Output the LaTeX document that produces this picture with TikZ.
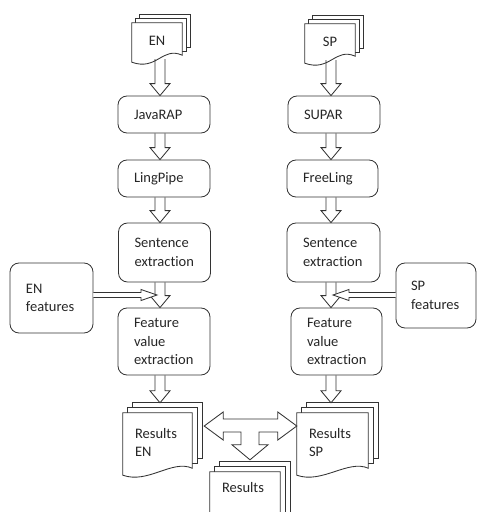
\documentclass[tikz,border=0pt]{standalone}
\usepackage{fontspec}
\setmainfont{Carlito}[Ligatures=NoCommon]
\usetikzlibrary{calc,backgrounds}

\tikzset{
  proc/.style={draw=black!80, rounded corners=9pt, line width=0.85pt, align=left,
    inner xsep=16pt, text width=60pt},
  doc/.style={inner xsep=12pt, align=left},
  page/.style={draw=black!80, fill=white, line width=0.85pt},
  blk/.style={draw=black!80, line width=0.85pt, line join=miter},
}

% stack of three pages behind a doc node, #1 = page offset
\newcommand\docstack[2][4]{%
  \begin{scope}[on background layer]
    \foreach \k in {2,1}
      \draw[page] ($(#2.north west)+(\k*#1,-\k*#1)$) rectangle ($(#2.south east)+(\k*#1,-4-\k*#1)$);
    \draw[page] (#2.north west) -- (#2.north east) -- ($(#2.south east)+(0,-4)$)
      .. controls ($(#2.south east)+(-20,-13)$) and ($(#2.south west)+(25,12)$) .. ($(#2.south west)+(0,3)$) -- cycle;
  \end{scope}
  \coordinate (#2-top) at ($(#2.north)+(2*#1,-2*#1)$);}

% hollow block arrow pointing down, along column #1
\newcommand\blockdown[3]{%
  \draw[blk] ($(#1 |- #2)+(-5,0)$) -- ($(#1 |- #3)+(-5,-12)$) -- ($(#1 |- #3)+(-10,-12)$)
    -- (#1 |- #3) -- ($(#1 |- #3)+(10,-12)$) -- ($(#1 |- #3)+(5,-12)$) -- ($(#1 |- #2)+(5,0)$);}

% hollow block arrow sideways, #3 = signed head length
\newcommand\blockside[3]{%
  \draw[blk, fill=white] ($(#1 |- #2)+(0,-2.5)$) -- ($(#2)+(#3,-2.5)$) -- ($(#2)+(#3,-5.5)$)
    -- (#2) -- ($(#2)+(#3,5.5)$) -- ($(#2)+(#3,2.5)$) -- ($(#1 |- #2)+(0,2.5)$);}

\begin{document}
\begin{tikzpicture}[x=1pt, y=-1pt, font=\fontsize{14.5}{18.5}\selectfont, text=black!85]
  \useasboundingbox (0,0) rectangle (477,512);
  \coordinate (colEN) at (160,0);
  \coordinate (colSP) at (331,0);

  % english column
  \node[doc, align=center, text width=26pt, minimum width=50pt, minimum height=36pt] (docEN) at (157,41) {EN};
  \node[proc, minimum height=37pt] (javarap) at (164,114.5) {JavaRAP};
  \node[proc, minimum height=37pt] (lingpipe) at (164,178.5) {LingPipe};
  \node[proc, minimum height=59pt] (sentEN) at (164.5,252.5) {Sentence\\extraction};
  \node[proc, minimum height=67pt] (featEN) at (164,341.5) {Feature\\value\\extraction};
  \node[proc, text width=51pt, minimum height=70pt] (enfeat) at (51.5,298) {EN\\features};
  \node[doc, text width=45pt, minimum width=69pt, minimum height=59pt] (resEN) at (157.5,442.5) {Results\\EN};

  % spanish column
  \node[doc, align=center, text width=26pt, minimum width=50pt, minimum height=36pt] (docSP) at (330,42) {SP};
  \node[proc, minimum height=37pt] (supar) at (334,114.5) {SUPAR};
  \node[proc, text width=59pt, minimum height=37pt] (freeling) at (332.5,178.5) {FreeLing};
  \node[proc, text width=61pt, minimum height=59pt] (sentSP) at (333.5,252.5) {Sentence\\extraction};
  \node[proc, text width=59pt, minimum height=67pt] (featSP) at (336.5,341.5) {Feature\\value\\extraction};
  \node[proc, inner xsep=15pt, text width=50pt, minimum height=65pt] (spfeat) at (436,295.5) {SP\\features};
  \node[doc, text width=47pt, minimum width=71pt, minimum height=59pt] (resSP) at (332.5,442.5) {Results\\SP};

  \node[doc, text width=46pt, minimum width=70pt, minimum height=59pt, text depth=29pt] (resAll) at (245,501.5) {Results};

  \docstack{docEN}
  \docstack{docSP}
  \docstack[5]{resEN}
  \docstack[5]{resSP}
  \docstack[5]{resAll}

  \foreach \src/\dst in {docEN.south/javarap.north, javarap.south/lingpipe.north,
      lingpipe.south/sentEN.north, sentEN.south/featEN.north, featEN.south/resEN-top}
    \blockdown{colEN}{\src}{\dst};
  \foreach \src/\dst in {docSP.south/supar.north, supar.south/freeling.north,
      freeling.south/sentSP.north, sentSP.south/featSP.north, featSP.south/resSP-top}
    \blockdown{colSP}{\src}{\dst};

  \coordinate (tipEN) at (157,295);
  \coordinate (tipSP) at (333,295);
  \blockside{enfeat.east}{tipEN}{-16}
  \blockside{spfeat.west}{tipSP}{16}

  % joint arrow between the results
  \coordinate (jl) at ($(resEN.east)+(12,-16.5)$);
  \coordinate (jr) at (resSP.west |- jl);
  \coordinate (jd) at ($(resAll.north)+(5,-12)$);
  \draw[blk, fill=white] (jl) -- ++(19,-14) -- ++(0,7) -- ($(jr)+(-19,-7)$) -- ++(0,-7) -- (jr)
    -- ++(-19,14) -- ++(0,-8) -- ($(jd |- jl)+(9,6)$) -- ($(jd)+(9,-15)$) -- ++(9,0) -- (jd)
    -- ++(-18,-15) -- ++(9,0) -- ($(jd |- jl)+(-9,6)$) -- ($(jl)+(19,6)$) -- ++(0,8) -- cycle;
\end{tikzpicture}
\end{document}
